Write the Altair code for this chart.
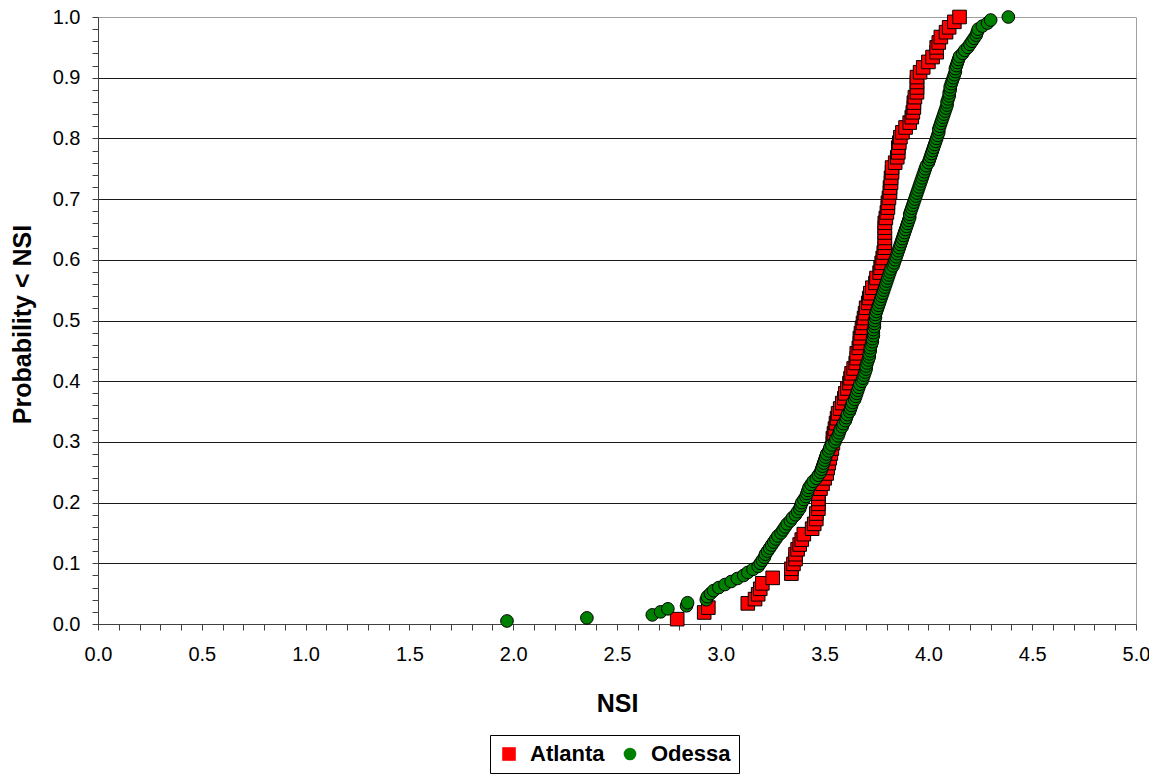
import altair as alt
import pandas as pd

# ---- data (NSI value, cumulative probability) ----
atl_x = [2.79, 2.92, 2.94, 3.13, 3.165, 3.18, 3.19, 3.20, 3.25, 3.34, 3.34, 3.35, 3.36, 3.36, 3.37,
         3.38, 3.39, 3.40, 3.44, 3.45, 3.46, 3.46, 3.47, 3.47, 3.47, 3.47, 3.48, 3.49, 3.50, 3.51,
         3.515, 3.52, 3.525, 3.53, 3.535, 3.54, 3.54, 3.545, 3.55, 3.555, 3.56, 3.565, 3.575, 3.585,
         3.595, 3.60, 3.61, 3.62, 3.625, 3.63, 3.64, 3.65, 3.655, 3.655, 3.665, 3.67, 3.67, 3.675,
         3.68, 3.685, 3.69, 3.695, 3.70, 3.71, 3.715, 3.72, 3.73, 3.745, 3.75, 3.765, 3.77, 3.775,
         3.78, 3.785, 3.79, 3.79, 3.79, 3.79, 3.79, 3.79, 3.795, 3.80, 3.805, 3.805, 3.81, 3.815,
         3.815, 3.82, 3.82, 3.825, 3.825, 3.84, 3.85, 3.855, 3.855, 3.86, 3.865, 3.875, 3.89, 3.91,
         3.92, 3.925, 3.93, 3.93, 3.935, 3.945, 3.945, 3.945, 3.945, 3.96, 3.975, 4.00, 4.02, 4.04,
         4.04, 4.05, 4.06, 4.085, 4.10, 4.125, 4.15]
atl_y = [0.008, 0.019, 0.027, 0.034, 0.041, 0.049, 0.058, 0.067, 0.076, 0.083, 0.091, 0.099, 0.107,
         0.115, 0.123, 0.131, 0.139, 0.148, 0.157, 0.165, 0.173, 0.182, 0.190, 0.198, 0.206, 0.215,
         0.223, 0.231, 0.240, 0.248, 0.257, 0.265, 0.273, 0.281, 0.289, 0.298, 0.306, 0.314, 0.322,
         0.331, 0.339, 0.347, 0.355, 0.364, 0.372, 0.380, 0.388, 0.397, 0.405, 0.413, 0.421, 0.430,
         0.438, 0.446, 0.455, 0.463, 0.471, 0.479, 0.488, 0.496, 0.504, 0.512, 0.521, 0.529, 0.537,
         0.545, 0.554, 0.562, 0.570, 0.579, 0.587, 0.595, 0.603, 0.612, 0.620, 0.628, 0.636, 0.645,
         0.653, 0.661, 0.669, 0.678, 0.686, 0.694, 0.702, 0.711, 0.719, 0.727, 0.735, 0.744, 0.752,
         0.760, 0.769, 0.777, 0.785, 0.793, 0.802, 0.810, 0.818, 0.826, 0.835, 0.843, 0.851, 0.859,
         0.868, 0.876, 0.884, 0.893, 0.901, 0.909, 0.917, 0.926, 0.934, 0.942, 0.950, 0.958, 0.967,
         0.975, 0.983, 0.992, 1.000]

ode_x = [1.97, 2.355, 2.67, 2.71, 2.745, 2.835, 2.84, 2.93, 2.935, 2.95, 2.965, 2.99, 3.02, 3.05,
         3.08, 3.11, 3.13, 3.155, 3.18, 3.19, 3.20, 3.21, 3.215, 3.225, 3.235, 3.245, 3.255, 3.265,
         3.275, 3.29, 3.30, 3.31, 3.32, 3.335, 3.345, 3.36, 3.37, 3.38, 3.385, 3.39, 3.40, 3.41,
         3.415, 3.42, 3.425, 3.435, 3.445, 3.46, 3.47, 3.48, 3.485, 3.49, 3.495, 3.50, 3.505, 3.51,
         3.52, 3.525, 3.535, 3.55, 3.555, 3.565, 3.57, 3.575, 3.585, 3.59, 3.60, 3.605, 3.61, 3.62,
         3.625, 3.63, 3.635, 3.645, 3.65, 3.655, 3.66, 3.665, 3.67, 3.68, 3.685, 3.69, 3.695, 3.70,
         3.70, 3.705, 3.71, 3.715, 3.715, 3.72, 3.72, 3.725, 3.73, 3.73, 3.735, 3.735, 3.735, 3.74,
         3.74, 3.74, 3.745, 3.745, 3.75, 3.755, 3.76, 3.765, 3.77, 3.775, 3.78, 3.785, 3.79, 3.795,
         3.80, 3.805, 3.81, 3.815, 3.82, 3.83, 3.835, 3.84, 3.845, 3.85, 3.855, 3.86, 3.865, 3.87,
         3.875, 3.88, 3.885, 3.89, 3.895, 3.90, 3.905, 3.91, 3.91, 3.915, 3.92, 3.925, 3.93, 3.935,
         3.94, 3.945, 3.95, 3.955, 3.96, 3.965, 3.97, 3.975, 3.98, 3.985, 3.99, 4.00, 4.005, 4.01,
         4.015, 4.02, 4.025, 4.03, 4.035, 4.04, 4.045, 4.05, 4.05, 4.055, 4.06, 4.065, 4.07, 4.075,
         4.08, 4.085, 4.09, 4.09, 4.095, 4.10, 4.10, 4.105, 4.105, 4.11, 4.115, 4.12, 4.125, 4.13,
         4.13, 4.135, 4.14, 4.145, 4.15, 4.165, 4.175, 4.19, 4.20, 4.21, 4.22, 4.23, 4.235, 4.24,
         4.26, 4.285, 4.30, 4.385]
ode_y = [0.005, 0.010, 0.015, 0.020, 0.025, 0.030, 0.035, 0.040, 0.045, 0.050, 0.055, 0.060, 0.065,
         0.070, 0.075, 0.080, 0.085, 0.090, 0.095, 0.100, 0.105, 0.110, 0.115, 0.120, 0.125, 0.130,
         0.135, 0.140, 0.145, 0.150, 0.155, 0.160, 0.165, 0.170, 0.175, 0.180, 0.185, 0.190, 0.195,
         0.200, 0.205, 0.210, 0.215, 0.220, 0.225, 0.230, 0.235, 0.240, 0.245, 0.250, 0.255, 0.260,
         0.265, 0.270, 0.275, 0.280, 0.285, 0.290, 0.295, 0.300, 0.305, 0.310, 0.315, 0.320, 0.325,
         0.330, 0.335, 0.340, 0.345, 0.350, 0.355, 0.360, 0.365, 0.370, 0.375, 0.380, 0.385, 0.390,
         0.395, 0.400, 0.405, 0.410, 0.415, 0.420, 0.425, 0.430, 0.435, 0.440, 0.445, 0.450, 0.455,
         0.460, 0.465, 0.470, 0.475, 0.480, 0.485, 0.490, 0.495, 0.500, 0.505, 0.510, 0.515, 0.520,
         0.525, 0.530, 0.535, 0.540, 0.545, 0.550, 0.555, 0.560, 0.565, 0.570, 0.575, 0.580, 0.585,
         0.590, 0.595, 0.600, 0.605, 0.610, 0.615, 0.620, 0.625, 0.630, 0.635, 0.640, 0.645, 0.650,
         0.655, 0.660, 0.665, 0.670, 0.675, 0.680, 0.685, 0.690, 0.695, 0.700, 0.705, 0.710, 0.715,
         0.720, 0.725, 0.730, 0.735, 0.740, 0.745, 0.750, 0.755, 0.760, 0.765, 0.770, 0.775, 0.780,
         0.785, 0.790, 0.795, 0.800, 0.805, 0.810, 0.815, 0.820, 0.825, 0.830, 0.835, 0.840, 0.845,
         0.850, 0.855, 0.860, 0.865, 0.870, 0.875, 0.880, 0.885, 0.890, 0.895, 0.900, 0.905, 0.910,
         0.915, 0.920, 0.925, 0.930, 0.935, 0.940, 0.945, 0.950, 0.955, 0.960, 0.965, 0.970, 0.975,
         0.980, 0.985, 0.990, 0.995, 1.000]

series = ["Atlanta", "Odessa"]
colors = ["#FF0000", "#008000"]
shapes = ["square", "circle"]
sizes = [185, 160]

x_ticks = [round(i * 0.1, 1) for i in range(51)]
y_ticks = [round(i * 0.02, 2) for i in range(51)]

rows = [{"NSI": x, "P": y, "City": "Atlanta"} for x, y in zip(atl_x, atl_y)]
rows += [{"NSI": x, "P": y, "City": "Odessa"} for x, y in zip(ode_x, ode_y)]
df = pd.DataFrame(rows)

FONT = "Liberation Sans"

legend = alt.Legend(
    title=None, orient="none", legendX=392, legendY=718, direction="horizontal",
    strokeColor="black", fillColor="white", padding=8,
    labelFont=FONT, labelFontSize=22, labelFontWeight="bold", labelColor="black",
    labelOffset=10, columnPadding=14,
    symbolStrokeColor="black", symbolStrokeWidth=1, symbolOpacity=1,
)

chart = alt.Chart(df).mark_point(
    filled=True, opacity=1, stroke="black", strokeWidth=1
).encode(
    x=alt.X("NSI:Q",
            scale=alt.Scale(domain=[0, 5], nice=False, zero=False),
            axis=alt.Axis(
                values=x_ticks, grid=False, title="NSI",
                labelExpr="round(datum.value*10) % 5 == 0 ? format(datum.value, '.1f') : ''",
                labelFlush=False, labelOverlap=False, labelBound=False,
                tickSize=6, labelPadding=14,
                titleX=519, titleY=79, titleAlign="center", titleBaseline="middle",
            )),
    y=alt.Y("P:Q",
            scale=alt.Scale(domain=[0, 1], nice=False, zero=False),
            axis=alt.Axis(
                values=y_ticks, grid=True, title="Probability < NSI",
                labelExpr="round(datum.value*50) % 5 == 0 ? format(datum.value, '.1f') : ''",
                gridOpacity={"condition": {"test": "round(datum.value*50) % 5 == 0 && datum.value > 0.001 && datum.value < 0.999", "value": 1}, "value": 0},
                labelFlush=False, labelOverlap=False, labelBound=False,
                tickSize=6, labelPadding=12,
                titleX=-76, titleY=307, titleAngle=-90, titleAlign="center", titleBaseline="middle",
            )),
    color=alt.Color("City:N", scale=alt.Scale(domain=series, range=colors), legend=legend),
    shape=alt.Shape("City:N", scale=alt.Scale(domain=series, range=shapes), legend=legend),
    size=alt.Size("City:N", scale=alt.Scale(domain=series, range=sizes), legend=legend),
).properties(
    width=1038, height=607,
    autosize=alt.AutoSizeParams(type="none"),
    padding={"left": 90, "top": 9, "right": 13, "bottom": 150},
).configure_view(
    stroke="#A0A0A0", strokeWidth=1
).configure_axis(
    labelFont=FONT, labelFontSize=20, labelColor="black",
    titleFont=FONT, titleFontSize=25, titleFontWeight="bold", titleColor="black",
    domainColor="#404040", domainWidth=1, tickColor="#404040", tickWidth=1,
    gridColor="#1a1a1a", gridWidth=1,
)

chart.save("out.html", embed_options={"renderer": "svg", "actions": False})
